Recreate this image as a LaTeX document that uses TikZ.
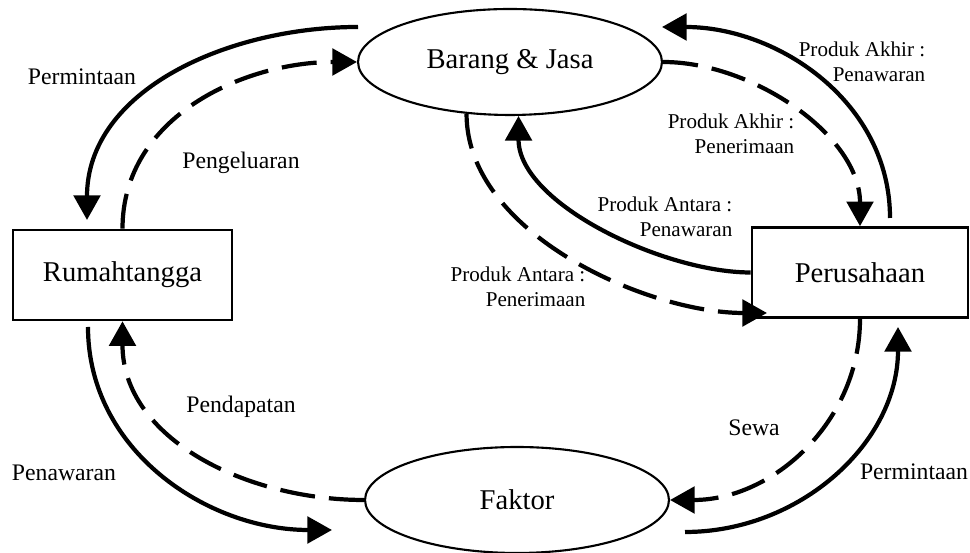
\documentclass[tikz,border=0pt]{standalone}
\usepackage{fontspec}
\setmainfont{Liberation Serif}
\usetikzlibrary{arrows.meta,shapes}
\tikzstyle{el} = [ellipse, draw, line width=1.2pt, inner sep=0pt,
    minimum width=6.08cm, minimum height=2.12cm, font=\fontsize{16.3}{19}\selectfont]
\tikzstyle{bx} = [rectangle, draw, line width=1.5pt, inner sep=0pt,
    minimum height=1.8cm, font=\fontsize{16.3}{19}\selectfont]
\tikzstyle{lb} = [font=\fontsize{13.5}{16}\selectfont]
\tikzstyle{lp} = [align=right, font=\fontsize{12}{14}\selectfont]
\tikzstyle{dsh} = [dash pattern=on 20pt off 8pt]

\begin{document}
\begin{tikzpicture}[x=0.02cm,y=0.02cm,-{Triangle[length=14pt,width=15pt]},
                    line width=2.4pt]
  \useasboundingbox (0,0) rectangle (970,553);

  \node[el] (bj) at (510,491) {Barang \& Jasa};
  \node[el] (fk) at (517,53)  {Faktor};
  \node[bx,minimum width=4.38cm] (rt) at (122.5,278) {Rumahtangga};
  \node[bx,minimum width=4.32cm] (pr) at (860,280.5) {Perusahaan};

  \coordinate (c1s) at (358,526);  \coordinate (c1e) at (87,333);
  \coordinate (c3s) at (890,335);  \coordinate (c3e) at (662,526);
  \coordinate (c6e) at (767,240);
  \coordinate (c7s) at (88,226);   \coordinate (c7e) at (332,23);
  \coordinate (c10s) at (685,21);  \coordinate (c10e) at (898,226);

  \path (c1s) edge[out=180,in=90] (c1e)
  (rt.north) edge[dsh,out=90,in=180] (bj.west)
  (c3s) edge[out=90,in=0] (c3e)
  (bj.east) edge[dsh,out=0,in=90,looseness=0.9] (pr.north)
  (pr.west) edge[out=180,in=270,looseness=0.8] (bj.279)
  (bj.230) edge[dsh,out=270,in=180,looseness=0.85] (c6e)
  (c7s) edge[out=270,in=180] (c7e)
  (fk.west) edge[dsh,out=180,in=270] (rt.south)
  (pr.south) edge[dsh,out=270,in=0] (fk.east)
  (c10s) edge[out=0,in=270] (c10e);

  \node[lb] (l1) at (82,476)  {Permintaan};
  \node[lb] (l2) at (241,390) {Pengeluaran};
  \node[lp] (l3) at (862,491) {Produk Akhir :\\Penawaran};
  \node[lp] (l4) at (731,419) {Produk Akhir :\\Penerimaan};
  \node[lp] (l5) at (665,336) {Produk Antara :\\Penawaran};
  \node[lp] (l6) at (518,266) {Produk Antara :\\Penerimaan};
  \node[lb] (l7) at (64,80)   {Penawaran};
  \node[lb] (l8) at (241,146) {Pendapatan};
  \node[lb] (l9) at (754,125) {Sewa};
  \node[lb] (l10) at (914,81) {Permintaan};
\end{tikzpicture}
\end{document}
